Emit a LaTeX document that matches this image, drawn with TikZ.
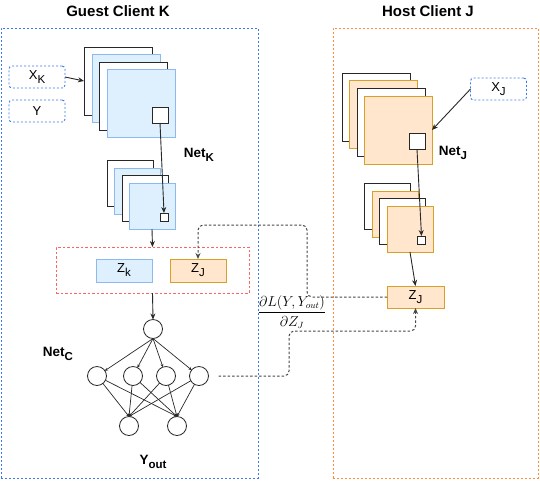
\documentclass[tikz,border=0pt]{standalone}
\usepackage{fontspec}
\setmainfont{Liberation Sans}
\usetikzlibrary{arrows.meta}
\definecolor{guestblue}{RGB}{60,120,240}
\definecolor{hostorange}{RGB}{255,140,60}
\definecolor{redline}{RGB}{255,100,100}
\definecolor{bluefill}{RGB}{222,240,253}
\definecolor{blueline}{RGB}{140,185,240}
\definecolor{orangefill}{RGB}{255,230,204}
\definecolor{orangeline}{RGB}{215,160,40}
\definecolor{darkline}{RGB}{40,40,40}
\definecolor{connline}{RGB}{70,70,70}
\newcommand{\mysub}[1]{\raisebox{-4pt}{\fontsize{11.5}{13}\selectfont #1}}
\begin{document}
\begin{tikzpicture}[x=1pt,y=-1pt,
  every node/.style={inner sep=0pt,outer sep=0pt},
  regionbox/.style={draw,line width=1pt,dash pattern=on 2pt off 2pt},
  title/.style={font=\fontsize{15}{17}\selectfont\bfseries},
  lbl/.style={font=\fontsize{13.5}{15}\selectfont\bfseries},
  inbox/.style={draw=guestblue,line width=0.9pt,dash pattern=on 2pt off 2pt,rounded corners=3pt,fill=white,minimum width=56pt,minimum height=22pt,font=\fontsize{13}{15}\selectfont},
  layerw/.style={draw=darkline,fill=white,line width=1pt,anchor=north west},
  layerb/.style={draw=blueline,fill=bluefill,line width=1pt,anchor=north west},
  layero/.style={draw=orangeline,fill=orangefill,line width=1pt,anchor=north west},
  big/.style={minimum width=68pt,minimum height=68pt},
  small/.style={minimum width=46pt,minimum height=46pt},
  sqr/.style={draw=darkline,fill=white,line width=1pt},
  zbox/.style={minimum width=56pt,minimum height=23pt,line width=1pt,font=\fontsize{13}{15}\selectfont},
  neuron/.style={circle,draw=darkline,line width=0.8pt,minimum size=19pt},
  arr/.style={draw=darkline,line width=0.9pt,-{Stealth[length=6pt,width=5pt]}},
  narr/.style={draw=darkline,line width=0.7pt,-{Stealth[length=3pt,width=3pt]}},
  conn/.style={draw=connline,line width=1pt,dash pattern=on 2.5pt off 2pt,rounded corners=5pt,-{Stealth[length=6pt,width=5pt]}}
]
\useasboundingbox (0,0) rectangle (540,480);

% region boxes
\node[regionbox,draw=guestblue,minimum width=257pt,minimum height=450pt,anchor=north west] (guest) at (1,28) {};
\node[regionbox,draw=hostorange,minimum width=205pt,minimum height=450pt,anchor=north west] (host) at (333,28) {};
\node[title] (guestT) at (118,11) {Guest Client K};
\node[title] (hostT) at (428,11) {Host Client J};

% guest inputs
\node[inbox] (xk) at (37,77) {X\mysub{K}};
\node[inbox] (y) at (37,111) {Y};

% Net_K first stack
\node[layerw,big] (ka) at (84,47) {};
\node[layerb,big] (kb) at (92,54) {};
\node[layerw,big] (kc) at (99,62) {};
\node[layerb,big] (kd) at (107,69) {};
\node[sqr,minimum size=16pt] (sq1) at (160,115) {};
\node[lbl] (netk) at (199,155) {Net\mysub{K}};

% Net_K second stack
\node[layerw,small] (ke) at (107,160) {};
\node[layerb,small] (kf) at (114,168) {};
\node[layerw,small] (kg) at (122,175) {};
\node[layerb,small] (kh) at (129,183) {};
\node[sqr,minimum size=8pt] (sq2) at (164,217) {};

\draw[arr] (xk.east) -- (ka.west);
\draw[arr] (sq1.south) -- (sq2.north);

% concatenation box
\node[draw=redline,line width=1pt,dash pattern=on 2.5pt off 2pt,minimum width=193pt,minimum height=46pt,anchor=north west] (cat) at (56,247) {};
\node[zbox,draw=blueline,fill=bluefill] (zk) at (124,270.5) {Z\mysub{k}};
\node[zbox,draw=orangeline,fill=orangefill] (zjg) at (198,270.5) {Z\mysub{J}};
\draw[arr] (kh.south) -- (cat.north);

% Net_C
\node[neuron] (t) at (153,329) {};
\node[neuron] (m1) at (97,376) {};
\node[neuron] (m2) at (133,376) {};
\node[neuron] (m3) at (166,376) {};
\node[neuron] (m4) at (199,376) {};
\node[neuron] (b1) at (129,426) {};
\node[neuron] (b2) at (177,426) {};
\node[lbl] (netc) at (58,354) {Net\mysub{C}};
\node[lbl] (yout) at (153,462) {Y\mysub{out}};
\draw[arr] (cat.south) -- (t.north);
\foreach \m in {m1,m2,m3,m4}{
  \draw[narr] (t.south) -- (\m);
  \draw[narr] (\m) -- (b1.north);
  \draw[narr] (\m) -- (b2.north);
}

% host
\node[inbox] (xj) at (498.5,89) {X\mysub{J}};
\node[layerw,big] (ja) at (342,73) {};
\node[layero,big] (jb) at (349,80) {};
\node[layerw,big] (jc) at (357,88) {};
\node[layero,big] (jd) at (364,96) {};
\node[sqr,minimum size=16pt] (sq3) at (417,141.5) {};
\node[lbl] (netj) at (453,153) {Net\mysub{J}};
\node[layerw,small] (je) at (364,183) {};
\node[layero,small] (jf) at (372,191) {};
\node[layerw,small] (jg) at (379,198) {};
\node[layero,small] (jh) at (387,206) {};
\node[sqr,minimum size=8pt] (sq4) at (421.5,240) {};
\node[zbox,minimum width=57pt,minimum height=22pt,draw=orangeline,fill=orangefill] (zjh) at (415.5,297) {Z\mysub{J}};
\draw[arr] (xj.west) -- (jd.east);
\draw[arr] (sq3.south) -- (sq4.north);
\draw[arr] (jh.south) -- (zjh.north);

% exchange connectors
\coordinate (c1) at (307,225);
\coordinate (c2) at (289,331);
\draw[conn] (zjh.west) -| (c1) -| (zjg.north);
\draw[conn,shorten <=10pt] (m4.east) -| (c2) -| (zjh.south);
\node[font=\fontsize{13.5}{16}\selectfont] (grad) at (292,312) {$\displaystyle\frac{\partial L(Y,Y_{out})}{\partial Z_J}$};
\end{tikzpicture}
\end{document}
